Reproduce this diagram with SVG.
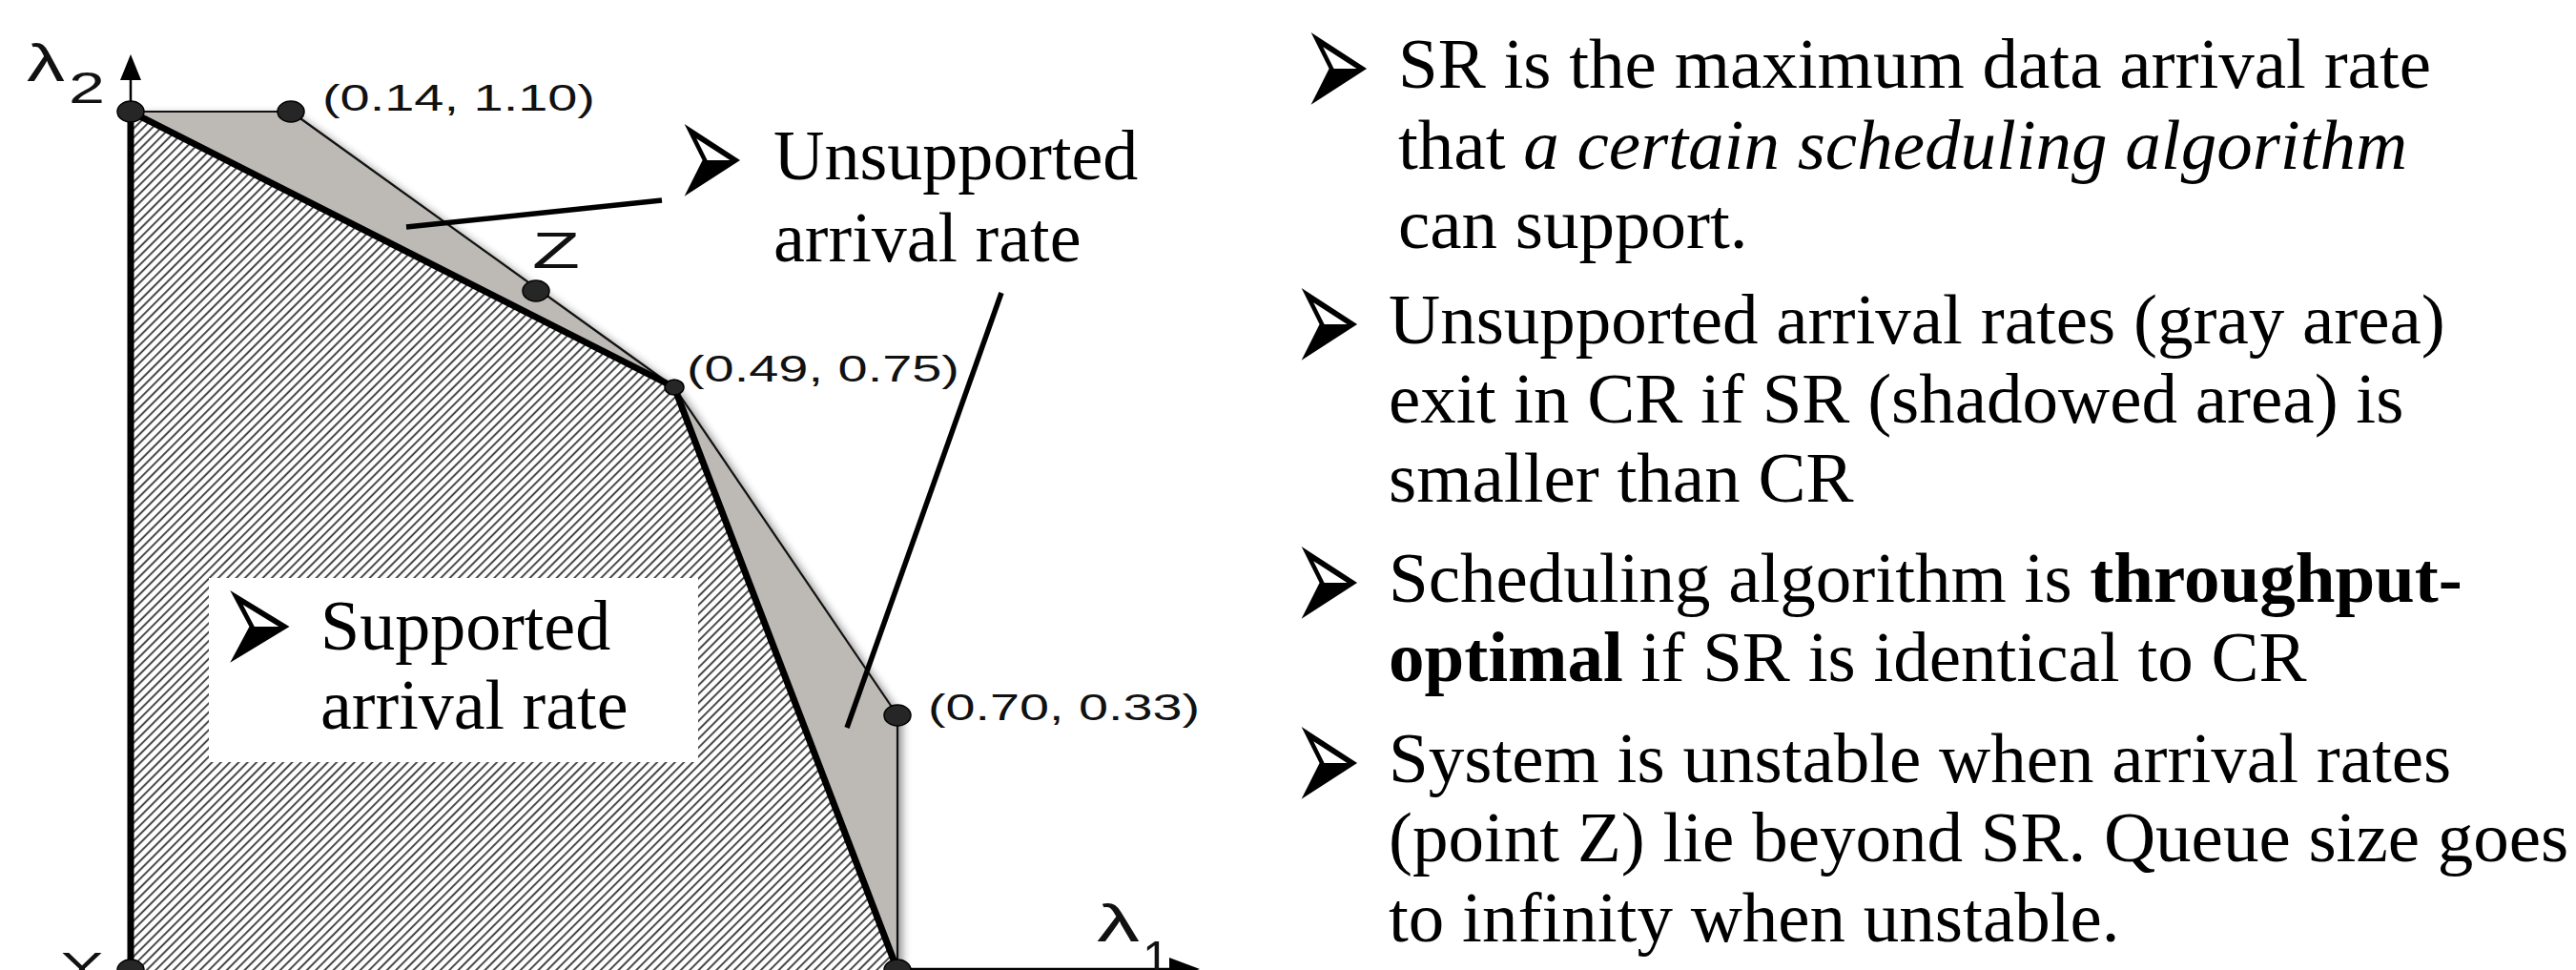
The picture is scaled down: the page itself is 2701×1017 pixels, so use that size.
<svg xmlns="http://www.w3.org/2000/svg" width="2701" height="1017" viewBox="0 0 2701 1017">
<style>
.txt{font-family:"Liberation Serif","Times New Roman",serif;font-size:75px;fill:#000}
.lbl{font-family:"Liberation Serif","Times New Roman",serif;font-size:74px;fill:#000}
.bul{font-family:"DejaVu Sans",sans-serif;font-size:115px;fill:#000}
.coord{font-family:"Liberation Sans",Arial,sans-serif;font-size:38px;fill:#111}
.ax{font-family:"Liberation Sans",Arial,sans-serif;fill:#111}
.thick{stroke:#000;stroke-width:7;fill:none;stroke-linecap:round;stroke-linejoin:round}
.thin{stroke:#111;stroke-width:2.2;fill:none}
.lead{stroke:#000;stroke-width:5.5;fill:none}
.dot{fill:#262626;stroke:#000;stroke-width:1.5}
</style>
<defs>
<pattern id="hatch" width="6.6" height="20" patternUnits="userSpaceOnUse" patternTransform="rotate(45)">
<rect width="6.6" height="20" fill="#fff"/>
<line x1="3" y1="0" x2="3" y2="20" stroke="#333" stroke-width="1.8"/>
</pattern>
<filter id="shadow" x="-20%" y="-20%" width="140%" height="140%">
<feGaussianBlur in="SourceAlpha" stdDeviation="5"/>
<feOffset dx="5" dy="3" result="b"/>
<feComponentTransfer><feFuncA type="linear" slope="0.45"/></feComponentTransfer>
<feMerge><feMergeNode/><feMergeNode in="SourceGraphic"/></feMerge>
</filter>
</defs>
<rect width="2701" height="1017" fill="#fff"/>

<g id="regions" filter="url(#shadow)">
<polygon id="gray-top" points="137,117 305,117 707,406" fill="#bdb9b4"/>
<polygon id="gray-bottom" points="707,406 941,750 941,1017" fill="#bdb9b4"/>
<polygon id="supported-region" points="137,117 707,406 941,1017 137,1017" fill="url(#hatch)"/>
</g>

<g id="connectors">
<line class="thin" x1="137" y1="117" x2="305" y2="117"/>
<line class="thin" x1="305" y1="117" x2="707" y2="406"/>
<line class="thin" x1="707" y1="406" x2="941" y2="750"/>
<line class="thin" x1="941" y1="750" x2="941" y2="1017"/>
<polyline class="thick" points="137,117 707,406 941,1017"/>
<line class="thick" x1="137" y1="117" x2="137" y2="1020" stroke-linecap="butt"/>
<line stroke="#000" stroke-width="2.5" x1="137" y1="117" x2="137" y2="80"/>
<polygon points="137,57 126,84 148,84" fill="#000"/>
<line stroke="#000" stroke-width="2.5" x1="941" y1="1016" x2="1230" y2="1016"/>
<polygon points="1226,1004 1258,1016 1226,1028" fill="#000"/>
<line class="lead" x1="426" y1="238" x2="694" y2="210"/>
<line class="lead" x1="1050" y1="307" x2="888" y2="763"/>
</g>

<g id="points">
<ellipse class="dot" cx="137" cy="117" rx="14" ry="11"/>
<ellipse class="dot" cx="305" cy="117" rx="14" ry="11"/>
<ellipse class="dot" cx="562" cy="305" rx="14" ry="11"/>
<ellipse class="dot" cx="707" cy="406" rx="10" ry="8"/>
<ellipse class="dot" cx="941" cy="750" rx="14" ry="11"/>
<ellipse class="dot" cx="941" cy="1017" rx="14" ry="11"/>
<ellipse class="dot" cx="137" cy="1017" rx="14" ry="11"/>
</g>

<g id="axis-labels">
<text class="ax" x="28" y="85" font-size="56" textLength="40" lengthAdjust="spacingAndGlyphs">λ</text>
<text class="ax" x="72" y="108" font-size="46" textLength="38" lengthAdjust="spacingAndGlyphs">2</text>
<text class="ax" x="1150" y="987" font-size="56" textLength="45" lengthAdjust="spacingAndGlyphs">λ</text>
<text class="ax" x="1198" y="1022" font-size="50" textLength="28" lengthAdjust="spacingAndGlyphs">1</text>
<text class="ax" x="64" y="1027" font-size="40" textLength="44" lengthAdjust="spacingAndGlyphs">Y</text>
<text class="ax" x="558" y="281" font-size="54" textLength="50" lengthAdjust="spacingAndGlyphs">Z</text>
</g>

<g id="coord-labels">
<text class="coord" x="338" y="116" textLength="286" lengthAdjust="spacingAndGlyphs">(0.14, 1.10)</text>
<text class="coord" x="720" y="400" textLength="286" lengthAdjust="spacingAndGlyphs">(0.49, 0.75)</text>
<text class="coord" x="973" y="755" textLength="285" lengthAdjust="spacingAndGlyphs">(0.70, 0.33)</text>
</g>

<g id="unsupported-label">
<text class="bul" transform="translate(708,222) scale(0.75,1.5)">➢</text>
<text class="lbl" x="811" y="188">Unsupported</text>
<text class="lbl" x="811" y="274">arrival rate</text>
</g>

<g id="supported-label">
<rect x="219" y="606" width="513" height="193" fill="#fff"/>
<text class="bul" transform="translate(231,711) scale(0.8,1.5)">➢</text>
<text class="lbl" x="336" y="681">Supported</text>
<text class="lbl" x="336" y="764">arrival rate</text>
</g>

<g id="bullet-1">
<text class="bul" transform="translate(1365,126) scale(0.75,1.5)">➢</text>
<text class="txt" x="1466" y="92">SR is the maximum data arrival rate</text>
<text class="txt" x="1466" y="177">that <tspan font-style="italic">a certain scheduling algorithm</tspan></text>
<text class="txt" x="1466" y="260">can support.</text>
</g>
<g id="bullet-2">
<text class="bul" transform="translate(1355,394) scale(0.75,1.5)">➢</text>
<text class="txt" x="1456" y="360">Unsupported arrival rates (gray area)</text>
<text class="txt" x="1456" y="443">exit in CR if SR (shadowed area) is</text>
<text class="txt" x="1456" y="526">smaller than CR</text>
</g>
<g id="bullet-3">
<text class="bul" transform="translate(1355,665) scale(0.75,1.5)">➢</text>
<text class="txt" x="1456" y="631">Scheduling algorithm is <tspan font-weight="bold">throughput-</tspan></text>
<text class="txt" x="1456" y="714"><tspan font-weight="bold">optimal</tspan> if SR is identical to CR</text>
</g>
<g id="bullet-4">
<text class="bul" transform="translate(1355,854) scale(0.75,1.5)">➢</text>
<text class="txt" x="1456" y="820">System is unstable when arrival rates</text>
<text class="txt" x="1456" y="903">(point Z) lie beyond SR. Queue size goes</text>
<text class="txt" x="1456" y="987">to infinity when unstable.</text>
</g>
</svg>
